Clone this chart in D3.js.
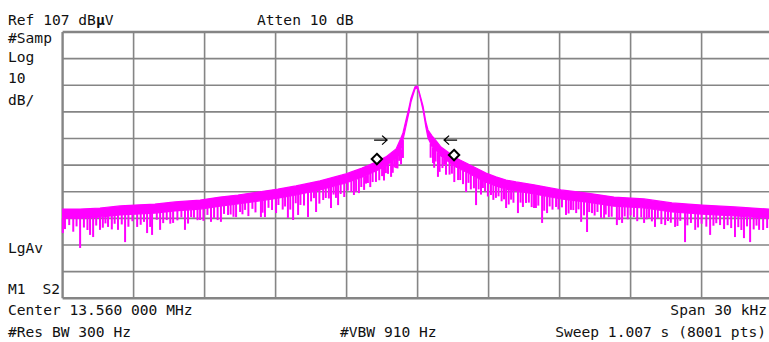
<!DOCTYPE html>
<html>
<head>
<meta charset="utf-8">
<script src="https://cdn.jsdelivr.net/npm/d3@7"></script>
<style>
  html, body { margin: 0; padding: 0; background: #fff; }
  svg { display: block; }
  text { font-family: "DejaVu Sans Mono", "Liberation Mono", monospace; font-size: 14.6px; fill: #111; }
</style>
</head>
<body>
<svg id="chart" width="769" height="342"></svg>
<script>
// Frequency offset from centre (kHz) and level (dBµV) of the trace envelope
const envFreq = [-15.0, -14.26, -13.42, -12.57, -11.94, -11.10, -10.25, -9.19, -8.35, -7.59,
  -6.74, -5.90, -5.14, -4.12, -3.03, -2.35, -1.76, -1.34, -0.91, -0.74, -0.62, -0.49, -0.36,
  -0.28, -0.19, -0.11, 0.00, 0.06, 0.14, 0.23, 0.35, 0.44, 0.61, 0.82, 0.99, 1.28, 1.62, 2.05,
  2.47, 2.89, 3.31, 3.74, 4.16, 4.92, 6.06, 7.16, 8.30, 9.57, 10.75, 12.02, 13.41, 14.85, 15.0];
// upper edge of the trace
const envTop = [40.5, 40.5, 40.9, 41.7, 42.0, 42.4, 43.2, 43.9, 45.0, 45.8,
  46.9, 48.0, 49.2, 51.1, 53.7, 55.9, 58.2, 60.1, 63.1, 66.4, 69.1, 74.0, 78.8,
  82.2, 84.5, 86.4, 86.7, 84.8, 82.2, 79.2, 73.2, 70.2, 68.0, 65.7, 63.8, 61.9, 59.7, 57.8,
  55.9, 54.0, 52.6, 51.4, 50.7, 49.6, 47.7, 46.5, 45.0, 44.3, 42.8, 42.0, 41.3, 40.5, 40.5];
// lower edge of the solid noise band
const envBottom = [37.1, 37.1, 37.5, 38.3, 38.6, 39.0, 39.8, 40.5, 41.6, 42.4,
  43.5, 44.6, 45.8, 47.7, 50.3, 52.5, 54.8, 56.7, 59.7, 61.2, 66.4, 71.7, 77.0,
  80.7, 83.3, 85.6, 86.0, 84.1, 81.1, 77.7, 71.3, 67.2, 64.0, 62.3, 60.4, 58.5, 56.3, 54.4,
  52.5, 50.6, 49.2, 48.0, 47.3, 46.2, 44.3, 43.1, 41.6, 40.9, 39.4, 38.6, 37.9, 37.1, 37.1];

// Shallow noise dips: frequency (kHz) and depth below the upper edge (dB)
const minorFreq = [-14.90, -14.72, -14.55, -14.41, -14.10, -13.95, -13.58, -13.30, -13.19, -12.92,
  -12.80, -12.50, -12.22, -12.05, -11.70, -11.56, -11.30, -11.02, -10.75, -10.60, -10.45, -10.15,
  -9.98, -9.70, -9.45, -9.30, -9.05, -8.88, -8.60, -8.45, -8.18, -7.90, -7.78, -7.50, -7.40,
  -7.15, -6.98, -6.85, -6.55, -6.30, -6.15, -5.88, -5.70, -5.60, -5.38, -5.15, -4.95, -4.80,
  -4.50, -4.38, -4.15, -3.88, -3.75, -3.55, -3.45, -3.25, -3.10, -2.95, -2.80, -2.60, -2.38,
  -2.18, -2.00, -1.90, -1.62, -1.50, -1.42, -1.25, -1.05, -0.98, -0.85, -0.78, -0.70,
  0.55, 0.70, 0.76, 0.93, 1.05, 1.20, 1.35, 1.45, 1.55, 1.80, 1.92, 2.15, 2.25, 2.38, 2.58,
  2.68, 2.85, 2.97, 3.10, 3.20, 3.42, 3.55, 3.65, 3.85, 3.95, 4.05, 4.35, 4.45, 4.70, 4.82,
  5.10, 5.35, 5.58, 5.70, 5.95, 6.10, 6.38, 6.58, 6.70, 6.80, 7.03, 7.25, 7.48, 7.60, 7.88,
  7.95, 8.20, 8.52, 8.75, 8.88, 9.00, 9.28, 9.45, 9.68, 9.90, 10.15, 10.30, 10.58, 10.70,
  10.98, 11.10, 11.40, 11.55, 11.85, 12.00, 12.20, 12.50, 12.62, 12.95, 13.10, 13.25, 13.55,
  13.68, 13.92, 14.20, 14.32, 14.60, 14.90];
const minorDepth = [7.5, 6.0, 8.5, 6.5, 7.0, 8.0, 6.5, 7.5, 6.0, 8.5,
  6.5, 7.0, 8.0, 6.0, 7.5, 6.5, 8.5, 6.0, 7.5, 6.5, 8.0, 7.0,
  6.0, 8.5, 6.5, 7.5, 8.0, 6.0, 7.5, 8.5, 6.5, 7.0, 8.0, 6.5, 7.5,
  8.5, 6.0, 7.5, 8.0, 6.5, 7.5, 6.0, 8.0, 7.0, 8.5, 6.5, 7.5, 8.0,
  7.0, 6.0, 8.5, 7.0, 7.5, 6.5, 8.0, 7.0, 8.5, 6.5, 7.5, 8.0, 7.0,
  6.5, 8.5, 7.0, 7.5, 6.5, 8.5, 7.0, 8.0, 6.5, 8.5, 7.0, 10.0,
  9.0, 11.0, 8.0, 10.0, 7.5, 9.0, 8.0, 7.0, 9.5, 7.5, 8.5, 7.0, 9.0, 8.0, 7.5,
  9.0, 7.0, 8.5, 7.5, 9.0, 7.0, 8.5, 7.5, 9.0, 7.0, 8.0, 7.5, 9.0, 7.0, 8.5,
  7.5, 9.0, 7.0, 8.0, 7.5, 6.5, 8.5, 7.0, 8.0, 6.5, 8.5, 7.0, 8.0, 6.5, 8.5,
  7.0, 7.5, 8.5, 7.0, 8.0, 6.5, 8.5, 7.0, 7.5, 8.0, 6.5, 8.5, 7.0, 7.5,
  8.5, 6.5, 8.0, 7.0, 8.5, 7.0, 8.0, 7.5, 6.5, 8.5, 7.0, 8.0, 7.5,
  8.5, 7.0, 8.0, 6.5, 8.0, 7.5];

// Deep noise dips: frequency (kHz) and lowest level (dBµV)
const dipFreq = [-14.99, -14.26, -13.84, -13.71, -13.42, -13.08, -12.66, -12.36, -11.85, -11.43,
  -11.22, -10.88, -10.33, -9.83, -9.57, -9.19, -8.73, -8.31, -8.01, -7.67, -7.29, -6.62, -6.45,
  -5.98, -5.48, -5.26, -5.05, -4.63, -4.29, -3.99, -3.66, -3.36, -2.69, -2.48, -2.26, -2.10,
  -1.76, -1.34, -1.12, -0.91, -0.62, 0.65, 0.86, 1.12, 1.71, 2.05, 2.47, 2.76, 3.31, 3.74,
  4.24, 4.58, 4.92, 5.00, 5.26, 5.47, 5.85, 6.27, 6.48, 6.91, 7.16, 7.37, 7.75, 8.08, 8.42,
  8.64, 9.14, 9.57, 9.78, 10.03, 10.46, 10.88, 11.30, 11.73, 12.36, 12.78, 13.41, 13.79, 14.05,
  14.43, 14.77];
const dipLevel = [31.5, 25.9, 30.8, 30.0, 32.7, 33.8, 32.7, 28.1, 33.8, 31.5,
  30.8, 32.7, 35.3, 32.7, 37.5, 36.4, 35.7, 35.7, 38.3, 37.5, 40.2, 37.5, 37.5,
  39.0, 37.2, 36.4, 38.3, 37.5, 39.4, 43.9, 40.9, 42.0, 45.8, 46.5, 47.7, 50.3,
  50.7, 54.0, 52.6, 55.9, 59.7, 57.8, 52.6, 57.1, 51.4, 46.9, 42.0, 48.4, 44.7, 40.9,
  39.0, 42.8, 40.9, 40.9, 35.3, 39.0, 41.3, 38.3, 40.2, 35.7, 31.9, 39.0, 37.2, 37.5, 34.5,
  35.3, 37.5, 35.3, 37.2, 33.8, 34.5, 33.8, 28.1, 32.7, 30.8, 34.5, 30.0, 29.6, 28.1,
  32.7, 33.4];

// Marker diamonds and the bandwidth arrows
const markerFreq = [-1.72, 1.54];
const markerLevel = [59.3, 60.8];
const arrowFreq = [-1.29, 1.12];
const arrowLevel = [66.4, 66.4];
const arrowDir = [1, -1];

// Screen grid: 10 divisions of 3 kHz and 10 dB
const freqTicks = [-15, -12, -9, -6, -3, 0, 3, 6, 9, 12, 15];
const levelTicks = [7, 17, 27, 37, 47, 57, 67, 77, 87, 97, 107];

const svg = d3.select("#chart");
const x = d3.scaleLinear().domain([-15, 15]).range([62.6, 772.6]);
const y = d3.scaleLinear().domain([7, 107]).range([298.3, 32]);

// grid
const grid = svg.append("g").attr("stroke", "#858585");
grid.selectAll("line.v").data(freqTicks).join("line")
  .attr("x1", d => x(d)).attr("x2", d => x(d))
  .attr("y1", y(107)).attr("y2", y(7))
  .attr("stroke-width", (d, i) => i === 0 ? 2.4 : 1.6);
grid.selectAll("line.h").data(levelTicks).join("line")
  .attr("x1", x(-15)).attr("x2", x(15))
  .attr("y1", d => y(d)).attr("y2", d => y(d))
  .attr("stroke-width", (d, i) => (i === 0 || i === levelTicks.length - 1) ? 2.4 : 1.6);

// trace
const env = envFreq.map((f, i) => ({ f, top: envTop[i], bot: envBottom[i] }));
const topAt = d3.scaleLinear().domain(envFreq).range(envTop);
const botAt = d3.scaleLinear().domain(envFreq).range(envBottom);
const trace = svg.append("g").attr("stroke", "#ff00ff");
trace.append("path").datum(env)
  .attr("fill", "#ff00ff").attr("stroke-width", 1.2)
  .attr("d", d3.area().x(d => x(d.f)).y0(d => y(d.bot)).y1(d => y(d.top)));
trace.selectAll("line.minor").data(minorFreq).join("line")
  .attr("x1", d => x(d)).attr("x2", d => x(d))
  .attr("y1", d => y(botAt(d)))
  .attr("y2", (d, i) => y(topAt(d) - minorDepth[i]))
  .attr("stroke-width", 2);
trace.selectAll("line.dip").data(dipFreq).join("line")
  .attr("x1", d => x(d)).attr("x2", d => x(d))
  .attr("y1", d => y(botAt(d)))
  .attr("y2", (d, i) => y(dipLevel[i]))
  .attr("stroke-width", 2);

// markers
svg.selectAll("path.marker").data(markerFreq).join("path")
  .attr("d", (d, i) => {
    const cx = x(d), cy = y(markerLevel[i]), r = 5.2;
    return `M${cx},${cy - r}L${cx + r},${cy}L${cx},${cy + r}L${cx - r},${cy}Z`;
  })
  .attr("fill", "#fff").attr("stroke", "#000").attr("stroke-width", 2);

svg.selectAll("path.arrow").data(arrowFreq).join("path")
  .attr("d", (d, i) => {
    const tx = x(d), ty = y(arrowLevel[i]), dir = arrowDir[i];
    return `M${tx - dir * 13},${ty}L${tx},${ty}M${tx - dir * 5},${ty - 4.5}L${tx},${ty}L${tx - dir * 5},${ty + 4.5}`;
  })
  .attr("fill", "none").attr("stroke", "#000").attr("stroke-width", 1.3);

// annotation text
const label = (t, px, py, anchor) => svg.append("text")
  .attr("x", px).attr("y", py).attr("text-anchor", anchor || "start").text(t);

const ref = svg.append("text").attr("x", 8).attr("y", 25);
ref.append("tspan").text("Ref 107 dB");
ref.append("tspan").attr("font-weight", "bold").text("µ");
ref.append("tspan").text("V");
label("Atten 10 dB", 257, 25);
label("#Samp", 8, 43);
label("Log", 8, 62);
label("10", 8, 83);
label("dB/", 8, 105);
label("LgAv", 8, 253);
label("M1", 8, 294);
label("S2", 60, 294, "end");
label("Center 13.560 000 MHz", 8, 315);
label("Span 30 kHz", 767, 315, "end");
label("#Res BW 300 Hz", 8, 337);
label("#VBW 910 Hz", 340, 337);
label("Sweep 1.007 s (8001 pts)", 766, 337, "end");
</script>
</body>
</html>
